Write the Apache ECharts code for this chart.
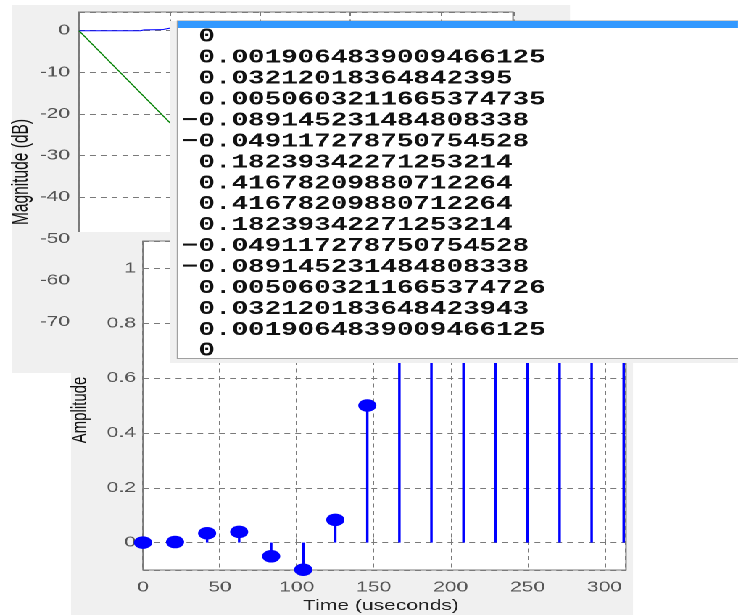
<!DOCTYPE html>
<html>
<head>
<meta charset="utf-8">
<script src="https://cdn.jsdelivr.net/npm/echarts@6/dist/echarts.min.js"></script>
<style>
  html, body { margin: 0; padding: 0; background: #fff; overflow: hidden; }
  #chart { height: 615px; transform-origin: 0 0; }
</style>
</head>
<body>
<div id="chart"></div>
<script>
// the screenshot is stretched sideways, so draw narrow and stretch the div
const S = 1.45
const sx = v => v / S

// step response (front figure)
const timeUs = [0, 20.83, 41.67, 62.5, 83.33, 104.17, 125, 145.83, 166.67, 187.5, 208.33, 229.17, 250, 270.83, 291.67, 312.5]
const amplitude = [0, 0.002, 0.034, 0.039, -0.05, -0.099, 0.083, 0.5, 0.917, 1.099, 1.05, 0.961, 0.966, 0.998, 1.0, 1.0]

// magnitude response (back figure), only the part left of the text box shows
const passFreq = [0, 3.4, 3.6, 4.6, 5, 6]
const passDb = [0, 0, 0.2, 0.25, 0.6, 0.8]
const slopeFreq = [0, 5, 6]
const slopeDb = [0, -22, -26.5]

// coefficients in the text window
const coefficients = [
  '0',
  '0.0019064839009466125',
  '0.03212018364842395',
  '0.0050603211665374735',
  '-0.089145231484808338',
  '-0.049117278750754528',
  '0.18239342271253214',
  '0.41678209880712264',
  '0.41678209880712264',
  '0.18239342271253214',
  '-0.049117278750754528',
  '-0.089145231484808338',
  '0.0050603211665374726',
  '0.032120183648423943',
  '0.0019064839009466125',
  '0'
]

const el = document.getElementById('chart')
el.style.width = sx(738) + 'px'
el.style.transform = 'scaleX(' + S + ')'
const chart = echarts.init(el, null, { devicePixelRatio: 2 })

const tickFont = { fontFamily: 'Liberation Sans', fontSize: 14.5, color: '#555' }
const grid = '#7a7a7a'
const dash = { color: grid, type: [4, 3.5], width: 1 }

const boxLines = coefficients.map(c => (c[0] === '-' ? '\u2212' + c.slice(1) : ' ' + c)).join('\n')

chart.setOption({
  animation: false,
  grid: [
    { left: sx(79), top: 12, width: sx(434), height: 351.6, show: true, backgroundColor: '#fff',
      borderColor: grid, borderWidth: 1, zlevel: 0, z: 2, containLabel: false, outerBoundsMode: 'none' },
    { left: sx(143), top: 241, width: sx(483), height: 329, show: true, backgroundColor: '#fff',
      borderColor: grid, borderWidth: 1, zlevel: 1, z: 2, containLabel: false, outerBoundsMode: 'none' }
  ],
  xAxis: [
    { gridIndex: 0, type: 'value', min: 0, max: 24, interval: 5, zlevel: 0, z: 3,
      axisLine: { show: false }, axisTick: { show: false }, axisLabel: { show: false },
      splitLine: { show: true, lineStyle: dash } },
    { gridIndex: 1, type: 'value', min: 0, max: 314, interval: 50, zlevel: 1, z: 3,
      axisLine: { show: false },
      axisTick: { show: true, inside: true, length: 4, lineStyle: { color: grid } },
      axisLabel: Object.assign({ margin: 10, showMaxLabel: false }, tickFont),
      splitLine: { show: true, lineStyle: dash } }
  ],
  yAxis: [
    { gridIndex: 0, type: 'value', min: -80, max: 4.5, interval: 10, zlevel: 0, z: 3,
      axisLine: { show: false }, axisTick: { show: false },
      axisLabel: Object.assign({ margin: sx(9), showMinLabel: false, showMaxLabel: false }, tickFont),
      splitLine: { show: true, lineStyle: dash } },
    { gridIndex: 1, type: 'value', min: -0.1, max: 1.1, splitNumber: 6, zlevel: 1, z: 3,
      axisLine: { show: false },
      axisTick: { show: true, inside: true, length: sx(5), lineStyle: { color: grid } },
      axisLabel: Object.assign({ margin: sx(7), showMinLabel: false, showMaxLabel: false }, tickFont),
      splitLine: { show: true, lineStyle: dash } }
  ],
  series: [
    { type: 'line', xAxisIndex: 0, yAxisIndex: 0, zlevel: 0, z: 4, symbol: 'none',
      data: passFreq.map((f, i) => [f, passDb[i]]), lineStyle: { color: '#0000ff', width: 1 } },
    { type: 'line', xAxisIndex: 0, yAxisIndex: 0, zlevel: 0, z: 4, symbol: 'none',
      data: slopeFreq.map((f, i) => [f, slopeDb[i]]), lineStyle: { color: '#008000', width: 1 } },
    { type: 'bar', xAxisIndex: 1, yAxisIndex: 1, zlevel: 1, z: 4, barWidth: sx(2.5),
      data: timeUs.map((t, i) => [t, amplitude[i]]), itemStyle: { color: '#0000ff' },
      markLine: { silent: true, symbol: 'none', label: { show: false },
        lineStyle: { color: '#808080', type: 'solid', width: 1 }, data: [{ yAxis: 0 }] } },
    { type: 'scatter', xAxisIndex: 1, yAxisIndex: 1, zlevel: 1, z: 5, symbol: 'circle',
      symbolSize: 12.5, clip: false,
      data: timeUs.map((t, i) => [t, amplitude[i]]), itemStyle: { color: '#0000ff', opacity: 1 } }
  ],
  graphic: [
    // back window
    { type: 'rect', zlevel: 0, z: 0, shape: { x: sx(12), y: 5, width: sx(558), height: 368 },
      style: { fill: '#f0f0f0' } },
    { type: 'text', zlevel: 0, z: 6, x: sx(21), y: 172, rotation: Math.PI / 2,
      style: { text: 'Magnitude (dB)', fontFamily: 'Liberation Sans', fontSize: 15.5, fill: '#111',
        align: 'center', verticalAlign: 'middle' } },
    // front window
    { type: 'rect', zlevel: 1, z: 0, shape: { x: sx(71), y: 232, width: sx(562), height: 383 },
      style: { fill: '#f0f0f0' } },
    { type: 'text', zlevel: 1, z: 6, x: sx(80), y: 410, rotation: Math.PI / 2,
      style: { text: 'Amplitude', fontFamily: 'Liberation Sans', fontSize: 15, fill: '#111',
        align: 'center', verticalAlign: 'middle' } },
    { type: 'text', zlevel: 1, z: 6, x: sx(381), y: 606,
      style: { text: 'Time (useconds)', fontFamily: 'Liberation Sans', fontSize: 14.5, fill: '#222',
        align: 'center', verticalAlign: 'middle' } },
    // text window on top
    { type: 'rect', zlevel: 2, z: 0, shape: { x: sx(170), y: 21, width: sx(568), height: 342 },
      style: { fill: '#f0f0f0' } },
    { type: 'rect', zlevel: 2, z: 1, shape: { x: sx(177.5), y: 21, width: sx(570), height: 337.5 },
      style: { fill: '#fff', stroke: '#a0a0a0', lineWidth: 1 } },
    { type: 'rect', zlevel: 2, z: 2, shape: { x: sx(178), y: 21, width: sx(560), height: 7 },
      style: { fill: '#3399ff' } },
    { type: 'text', zlevel: 2, z: 3, x: sx(182), y: 26.5,
      style: { text: boxLines, fontFamily: 'Liberation Mono', fontWeight: 'bold', fontSize: 19,
        lineHeight: 20.93, fill: '#111', align: 'left', verticalAlign: 'top' } }
  ]
})
</script>
</body>
</html>
